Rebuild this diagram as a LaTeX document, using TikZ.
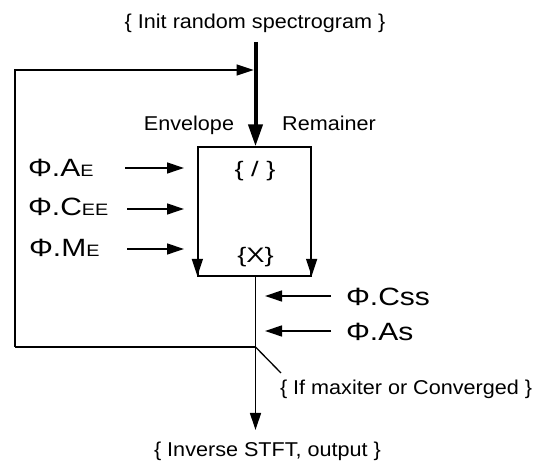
\documentclass[tikz,border=0pt]{standalone}
\usepackage{fontspec}
\setmainfont{Liberation Sans}
\usetikzlibrary{arrows.meta}
\newcommand\lbl[1]{\scalebox{1.08}[1]{\fontsize{20}{24}\selectfont #1}}
\newcommand\opl[1]{\scalebox{1.3}[1]{\fontsize{21}{25}\selectfont #1}}
\newcommand\phil[1]{\scalebox{1.2}[1]{\fontsize{25}{30}\selectfont #1}}
\newcommand\sml[1]{{\fontsize{16.5}{20}\selectfont #1}}
\begin{document}
\begin{tikzpicture}[x=1pt,y=-1pt,
  thin line/.style={line width=1.3pt},
  thin arrow/.style={thin line,-{Triangle[length=17pt,width=11pt]}},
  thick arrow/.style={line width=4pt,-{Triangle[length=22pt,width=14pt]}},
  txt/.style={inner sep=0pt,outer sep=0pt},
  every node/.style={text=black}]
\useasboundingbox (0,0) rectangle (542,462);
% texts
\node[txt,anchor=base] (init) at (255,29) {\lbl{\{ Init random spectrogram \}}};
\node[txt,anchor=base] (env) at (189,131) {\lbl{Envelope}};
\node[txt,anchor=base] (rem) at (329,131) {\lbl{Remainer}};
\node[draw,thin line,minimum width=113pt,minimum height=129pt,inner sep=0pt] (box) at (254.5,211.5) {};
\node[txt,anchor=base] (div) at (255,177) {\opl{\{ / \}}};
\node[txt,anchor=base] (mul) at (255.5,263) {\opl{\{X\}}};
\node[txt,anchor=base west] (ae) at (28,177) {\phil{Φ.A\sml{E}}};
\node[txt,anchor=base west] (cee) at (28,216) {\phil{Φ.C\sml{EE}}};
\node[txt,anchor=base west] (me) at (29,257) {\phil{Φ.M\sml{E}}};
\node[txt,anchor=base west] (css) at (346,306) {\phil{Φ.Css}};
\node[txt,anchor=base west] (as) at (346,341) {\phil{Φ.As}};
\node[txt,anchor=base west] (cond) at (280,395) {\lbl{\{ If maxiter or Converged \}}};
\node[txt,anchor=base] (out) at (267.5,457) {\lbl{\{ Inverse STFT, output \}}};
% coordinates
\coordinate (top) at (255.5,42);
\coordinate (fbl) at (15,70);
\coordinate (fbr) at (253.6,70);
\coordinate (jn) at (255.5,347);
\coordinate (jl) at (15,347);
\coordinate (diag) at (281,373);
\coordinate (outtip) at (255.5,430);
\coordinate (aeS) at (125,168);
\coordinate (aeE) at (184,168);
\coordinate (ceeS) at (127,209);
\coordinate (ceeE) at (184,209);
\coordinate (meS) at (127,249);
\coordinate (meE) at (184,249);
\coordinate (cssS) at (331,296);
\coordinate (cssE) at (265,296);
\coordinate (asS) at (331,331);
\coordinate (asE) at (265,331);
% connectors
\draw[thick arrow] (top) -- (top |- box.north);
\draw[thin arrow] (jl) -- (fbl) -- (fbr);
\draw[thin arrow] (box.north west) -- ([yshift=0.65pt]box.south west);
\draw[thin arrow] (box.north east) -- ([yshift=0.65pt]box.south east);
\draw[thin arrow] (box.south -| top) -- (outtip);
\draw[thin line] (jl) -- (jn);
\draw[thin line] (jn) -- (diag);
\draw[thin arrow] (aeS) -- (aeE);
\draw[thin arrow] (ceeS) -- (ceeE);
\draw[thin arrow] (meS) -- (meE);
\draw[thin arrow] (cssS) -- (cssE);
\draw[thin arrow] (asS) -- (asE);
\end{tikzpicture}
\end{document}
